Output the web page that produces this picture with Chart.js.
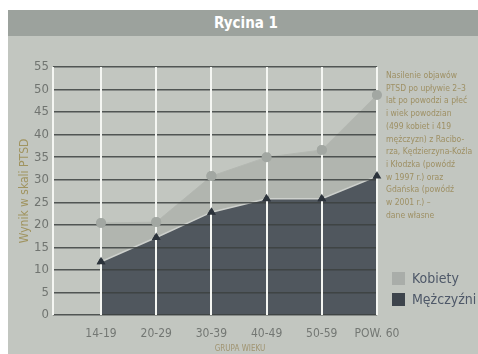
<!DOCTYPE html>
<html>
<head>
<meta charset="utf-8">
<script src="https://cdn.jsdelivr.net/npm/chart.js@4"></script>
<style>
    html, body { margin: 0; padding: 0; background: #fff; }
    #wrap { position: relative; width: 478px; height: 354px; overflow: hidden; }
    #panel { position: absolute; left: 8px; top: 10px; right: 0; bottom: 0; background: #c2c6c0; }
    #header { position: absolute; left: 8px; top: 10px; right: 0; height: 26px; background: #9ca29d;
        color: #fff; font: bold 15px 'Liberation Sans Narrow', 'DejaVu Sans Condensed', sans-serif; text-align: center; line-height: 26px; }
    #header span { margin-left: 6px; }
    #chartBox { position: absolute; left: 0; top: 0; width: 478px; height: 354px; }
    #note { position: absolute; left: 386px; top: 69px; width: 90px; color: #9e9064;
        font: 8.5px/12.7px 'Liberation Sans Narrow', 'DejaVu Sans Condensed', sans-serif; white-space: nowrap; }
    #xTitle { position: absolute; left: 190px; width: 100px; top: 344px; text-align: center; color: #a09470;
        font: 8px 'Liberation Sans Narrow', 'DejaVu Sans Condensed', sans-serif; }
    .leg { position: absolute; left: 392px; font: 14px 'Liberation Sans Narrow', 'DejaVu Sans Condensed', sans-serif; color: #4e5868; }
    .leg i { display: inline-block; width: 13px; height: 13px; vertical-align: -2px; margin-right: 7px; }
</style>
</head>
<body>
<div id="wrap">
    <div id="panel"></div>
    <div id="header"><span>Rycina 1</span></div>
    <div id="chartBox"><canvas id="ptsdChart" width="478" height="354"></canvas></div>
    <div id="note">
        Nasilenie objawów<br>PTSD po upływie 2–3<br>lat po powodzi a płeć<br>i wiek powodzian<br>(499 kobiet i 419<br>mężczyzn) z Racibo-<br>rza, Kędzierzyna-Koźla<br>i Kłodzka (powódź<br>w 1997 r.) oraz<br>Gdańska (powódź<br>w 2001 r.) –<br>dane własne
    </div>
    <div id="xTitle">GRUPA WIEKU</div>
    <div class="leg" style="top:270px"><i style="background:#a9ada9"></i>Kobiety</div>
    <div class="leg" style="top:291px"><i style="background:#3d444c"></i>Mężczyźni</div>
</div>
<script>
// Age groups and PTSD scores
const ageGroups = ['14-19', '20-29', '30-39', '40-49', '50-59', 'POW. 60'];
const women = [20.4, 20.6, 30.8, 35.0, 36.6, 48.8];
const men = [11.8, 17.2, 22.8, 25.8, 25.8, 30.8];
const yTicks = [0, 5, 10, 15, 20, 25, 30, 35, 40, 45, 50, 55];

const narrow = "'Liberation Sans Narrow', 'DejaVu Sans Condensed', sans-serif";

// Redraw the markers so they sit above the grid lines
const pointsOnTop = {
    id: 'pointsOnTop',
    afterDraw: function(chart) {
        const c = chart.ctx;
        chart.data.datasets.forEach((ds, i) => {
            chart.getDatasetMeta(i).data.forEach(pt => pt.draw(c, chart.chartArea));
        });
    }
};

const ctx = document.getElementById('ptsdChart').getContext('2d');
const ptsdChart = new Chart(ctx, {
    type: 'line',
    data: {
        datasets: [{
            label: 'Mężczyźni',
            data: men.map((v, i) => ({ x: i, y: v })),
            borderColor: '#cdd0cc',
            borderWidth: 1.5,
            backgroundColor: '#50575e',
            fill: 'origin',
            pointStyle: 'triangle',
            pointRadius: 5,
            pointBackgroundColor: '#2c333b',
            pointBorderWidth: 0,
            tension: 0
        }, {
            label: 'Kobiety',
            data: women.map((v, i) => ({ x: i, y: v })),
            borderColor: '#b3b7b1',
            borderWidth: 1,
            backgroundColor: '#b1b5af',
            fill: '-1',
            pointRadius: 5,
            pointBackgroundColor: '#a2a7a2',
            pointBorderWidth: 0,
            tension: 0
        }]
    },
    options: {
        responsive: false,
        animation: false,
        layout: { padding: { left: 0, right: 101, top: 67, bottom: 0 } },
        scales: {
            x: {
                type: 'linear',
                min: -0.87,
                max: 5,
                afterBuildTicks: function(scale) {
                    scale.ticks = [-0.87, 0, 1, 2, 3, 4, 5].map(v => ({ value: v }));
                },
                afterFit: function(scale) { scale.height = 39; },
                border: { display: false },
                grid: { color: '#f4f6f2', lineWidth: 2, drawTicks: false, z: 2 },
                ticks: {
                    padding: 12,
                    color: '#737773',
                    font: { family: narrow, size: 12 },
                    maxRotation: 0,
                    autoSkip: false,
                    callback: function(value) {
                        return Number.isInteger(value) ? ageGroups[value] : '';
                    }
                }
            },
            y: {
                min: 0,
                max: 55,
                afterBuildTicks: function(scale) {
                    scale.ticks = yTicks.map(v => ({ value: v }));
                },
                afterFit: function(scale) { scale.width = 53; },
                border: { display: false },
                grid: { color: 'rgba(60, 65, 64, 0.85)', lineWidth: 1.5, drawTicks: false, z: 1 },
                ticks: {
                    padding: 4,
                    color: '#707470',
                    font: { family: narrow, size: 13 }
                },
                title: {
                    display: true,
                    text: 'Wynik w skali PTSD',
                    color: '#a09460',
                    font: { family: narrow, size: 12 },
                    padding: { top: 18, bottom: 0 }
                }
            }
        },
        plugins: {
            legend: { display: false },
            tooltip: { enabled: false }
        }
    },
    plugins: [pointsOnTop]
});
</script>
</body>
</html>
